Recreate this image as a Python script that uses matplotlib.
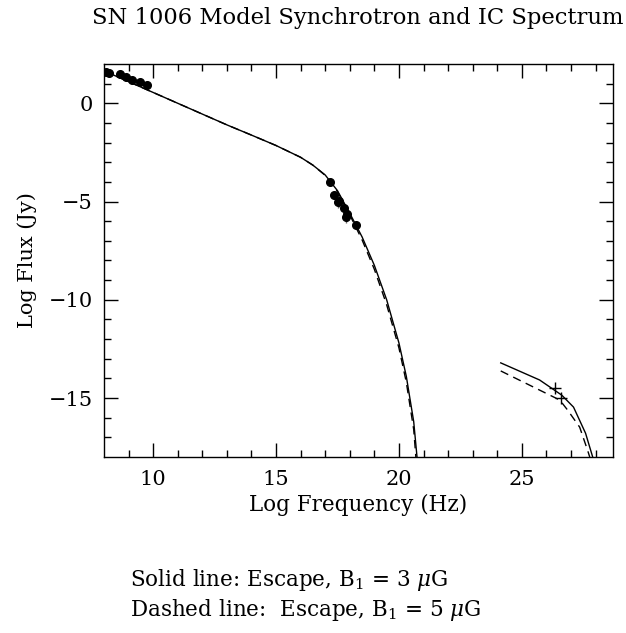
import numpy as np
import matplotlib
matplotlib.use("Agg")
import matplotlib.pyplot as plt

plt.rcParams['font.family'] = ['DejaVu Serif']
plt.rcParams['mathtext.fontset'] = 'dejavuserif'

# radio data (log nu, log flux)
radio_x = [8.08, 8.2, 8.65, 8.9, 9.14, 9.46, 9.75]
radio_y = [1.58, 1.55, 1.48, 1.33, 1.2, 1.07, 0.92]

# x-ray data
xray_x = [17.19, 17.35, 17.55, 17.51, 17.76, 17.88, 17.84, 18.24]
xray_y = [-4.03, -4.69, -4.95, -5.05, -5.31, -5.66, -5.77, -6.17]
xray_err = [0.0, 0.0, 0.35, 0.3, 0.0, 0.35, 0.3, 0.0]

# synchrotron model, solid (B1 = 3 uG) and dashed (B1 = 5 uG)
sync_x = [8, 9, 10, 11, 12, 13, 14, 15, 16, 16.5, 17, 17.5, 18, 18.5, 19, 19.5, 20, 20.3, 20.6, 20.75]
sync_solid = [1.65, 1.1, 0.55, 0.0, -0.55, -1.1, -1.62, -2.15, -2.75, -3.15, -3.65, -4.45, -5.6, -6.8, -8.25, -10.0, -12.2, -13.9, -16.2, -18.2]
sync_dash_x = [8, 9, 10, 11, 12, 13, 14, 15, 16, 16.5, 17, 17.5, 18, 18.5, 19, 19.5, 20, 20.3, 20.6, 20.7]
sync_dash = [1.65, 1.1, 0.55, 0.0, -0.55, -1.1, -1.62, -2.15, -2.75, -3.15, -3.67, -4.5, -5.68, -6.95, -8.45, -10.25, -12.45, -14.2, -16.6, -18.2]

# inverse Compton model
ic_x = [24.14, 25.72, 26.62, 27.1, 27.59, 27.88]
ic_solid = [-13.21, -14.08, -14.85, -15.46, -16.79, -18.0]
ic_dash_x = [24.14, 26.54, 26.86, 27.35, 27.67, 27.76]
ic_dash = [-13.62, -15.1, -15.61, -16.48, -17.65, -18.0]

# TeV points
tev_x = [26.33, 26.58]
tev_y = [-14.49, -15.0]

fig = plt.figure(figsize=(6.26, 6.33), dpi=100)
ax = fig.add_axes([0.166, 0.278, 0.813, 0.621])

ax.plot(sync_x, sync_solid, 'k-', lw=1)
ax.plot(sync_dash_x, sync_dash, 'k--', lw=1, dashes=(6, 4))
ax.plot(ic_x, ic_solid, 'k-', lw=1)
ax.plot(ic_dash_x, ic_dash, 'k--', lw=1, dashes=(6, 4))

ax.plot(radio_x, radio_y, 'ko', ms=5.5)
ax.errorbar(xray_x, xray_y, yerr=[xray_err, [0] * len(xray_err)], fmt='ko', ms=5.5,
            ecolor='0.4', elinewidth=1, capsize=0)
ax.plot(tev_x, tev_y, 'k+', ms=8, mew=1)

ax.set_xlim(8, 28.7)
ax.set_ylim(-18, 2)
ax.set_xticks([10, 15, 20, 25])
ax.set_yticks([0, -5, -10, -15])
ax.set_xticks(np.arange(9, 29), minor=True)
ax.set_yticks(np.arange(-17, 2), minor=True)
ax.tick_params(which='both', direction='in', top=True, right=True, labelsize=15)
ax.tick_params(which='major', length=10, width=1)
ax.tick_params(which='minor', length=5, width=1)
ax.tick_params(axis='x', pad=9)
ax.tick_params(axis='y', pad=8)
for s in ax.spines.values():
    s.set_linewidth(1)

ax.set_xlabel('Log Frequency (Hz)', fontsize=15.5, labelpad=4)
ax.set_ylabel('Log Flux (Jy)', fontsize=15, labelpad=8)

fig.text(0.572, 0.972, 'SN 1006 Model Synchrotron and IC Spectrum', ha='center', va='center', fontsize=16.3)
fig.text(0.208, 0.083, r'Solid line: Escape, B$_1$ = 3 $\mu$G', ha='left', va='center', fontsize=15.5)
fig.text(0.208, 0.036, r'Dashed line:  Escape, B$_1$ = 5 $\mu$G', ha='left', va='center', fontsize=15.5)

fig.savefig('out.png', dpi=100)
